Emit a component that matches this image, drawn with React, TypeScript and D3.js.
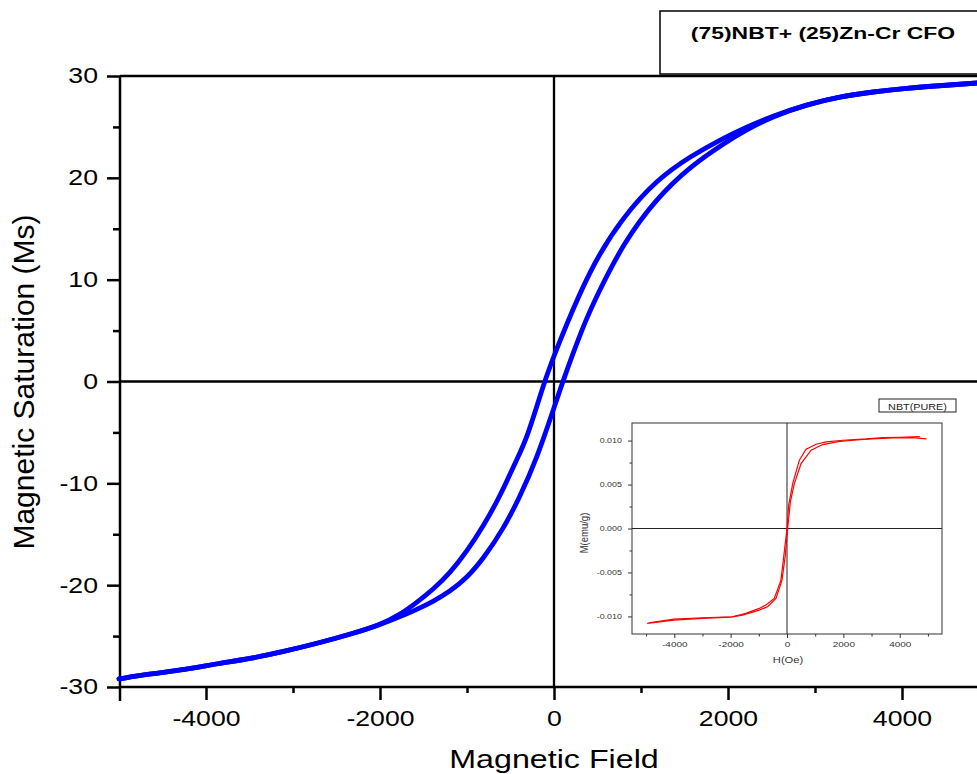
import React, { useEffect, useRef } from 'react'
import * as d3 from 'd3'

// main loop: (75)NBT+ (25)Zn-Cr CFO, field in Oe, Ms
// descending branch, +5000 -> -5000
const descField = [5000, 4437, 4054, 3670, 3287, 2905, 2521, 2215, 1946, 1563, 1180, 797, 414, 0, -110, -314, -429, -621, -813, -1003, -1195, -1387, -1578, -1770, -2000, -2330, -2713, -3095, -3479, -3862, -4245, -4629, -5000]
const descMs = [29.4, 29.05, 28.8, 28.45, 27.97, 27.2, 26.1, 25.0, 23.9, 22.1, 19.8, 16.2, 11.2, 2.6, 0, -5.7, -7.65, -11.3, -14.2, -16.7, -18.8, -20.4, -21.7, -22.9, -23.9, -24.8, -25.7, -26.5, -27.2, -27.7, -28.3, -28.7, -29.2]
// ascending branch, -5000 -> +5000
const ascField = [-5000, -4629, -4245, -3862, -3479, -3095, -2713, -2330, -2000, -1770, -1578, -1387, -1195, -1003, -813, -583, -391, -199, 0, 100, 337, 491, 797, 1180, 1563, 1946, 2215, 2521, 2905, 3287, 3670, 4054, 4437, 5000]
const ascMs = [-29.2, -28.7, -28.3, -27.7, -27.2, -26.5, -25.7, -24.8, -23.9, -23.1, -22.4, -21.6, -20.6, -19.3, -17.4, -14.5, -11.3, -7.6, -2.6, 0, 5.5, 8.4, 13.6, 18.0, 21.1, 23.35, 24.75, 26.05, 27.2, 27.97, 28.45, 28.8, 29.05, 29.4]

// inset: NBT(PURE), H(Oe) vs M(emu/g)
const pureDescH = [4712, 4000, 3407, 2813, 1982, 1389, 1033, 677, 439, 202, 59, 0, -83, -214, -451, -748, -985, -1460, -1935, -3003, -4012, -4902]
const pureDescM = [0.01045, 0.01038, 0.01034, 0.01019, 0.01004, 0.00985, 0.00958, 0.00902, 0.00777, 0.00511, 0.00265, 0, -0.00227, -0.00587, -0.00795, -0.00871, -0.00909, -0.00966, -0.01004, -0.01015, -0.0103, -0.01072]
const pureAscH = [-4962, -4012, -3003, -1994, -1579, -985, -688, -392, -178, -59, 24, 119, 261, 499, 855, 1270, 1864, 2813, 3763, 4475, 4950]
const pureAscM = [-0.0108, -0.01042, -0.01023, -0.01008, -0.00985, -0.00928, -0.0089, -0.00795, -0.00587, -0.00303, 0, 0.00303, 0.00511, 0.00739, 0.0089, 0.00955, 0.00992, 0.01015, 0.0103, 0.01034, 0.01019]

// ticks
const msMajor = [-30, -20, -10, 0, 10, 20, 30]
const msMinor = [-25, -15, -5, 5, 15, 25]
const fieldMajor = [-4000, -2000, 0, 2000, 4000]
const fieldMinor = [-3000, -1000, 1000, 3000]
const insetMMajor = [-0.01, -0.005, 0, 0.005, 0.01]
const insetMMinor = [-0.0075, -0.0025, 0.0025, 0.0075]
const insetHMajor = [-4000, -2000, 0, 2000, 4000]
const insetHMinor = [-5000, -3000, -1000, 1000, 3000, 5000]

const FONT = 'Arial, "Liberation Sans", sans-serif'
const SX = 1.24 // the picture is a bit stretched sideways

const App = () => {
  const svgRef = useRef<SVGSVGElement>(null)

  useEffect(() => {
    const svg = d3.select(svgRef.current)
    svg.selectAll('*').remove()
    svg.style('font-family', FONT)

    const x = d3.scaleLinear().domain([-5000, 5000]).range([119, 989])
    const y = d3.scaleLinear().domain([-30, 30]).range([687, 76])

    // frame lines
    svg.append('line').attr('x1', 120).attr('x2', 989).attr('y1', 76).attr('y2', 76)
      .attr('stroke', '#000').attr('stroke-width', 2.5)
    svg.append('line').attr('x1', 120).attr('x2', 120).attr('y1', 76).attr('y2', 701)
      .attr('stroke', '#000').attr('stroke-width', 2.5)
    svg.append('line').attr('x1', 120).attr('x2', 989).attr('y1', 687).attr('y2', 687)
      .attr('stroke', '#000').attr('stroke-width', 2.5)

    // left axis
    const left = svg.append('g').attr('transform', 'translate(120,0)')
    left.call(d3.axisLeft(y).tickValues(msMajor).tickSize(13).tickFormat(d => String(d)))
    left.append('g').call(d3.axisLeft(y).tickValues(msMinor).tickSize(7).tickFormat(() => ''))
    left.selectAll('.domain').remove()
    left.selectAll('line').attr('stroke-width', 2.5)
    left.selectAll('text').attr('font-size', 21.5).attr('font-family', FONT)
      .attr('x', -22 / SX).attr('transform', `scale(${SX},1)`)

    // bottom axis
    const bottom = svg.append('g').attr('transform', 'translate(0,687)')
    bottom.call(d3.axisBottom(x).tickValues(fieldMajor).tickSize(13).tickPadding(11).tickFormat(d => String(d)))
    bottom.append('g').call(d3.axisBottom(x).tickValues(fieldMinor).tickSize(6).tickFormat(() => ''))
    bottom.selectAll('.domain').remove()
    bottom.selectAll('line').attr('stroke-width', 2.5)
    bottom.selectAll('text').attr('font-size', 21.5).attr('font-family', FONT)
      .attr('transform', `scale(${SX},1)`)

    // zero lines
    svg.append('line').attr('x1', x(0)).attr('x2', x(0)).attr('y1', 76).attr('y2', 687)
      .attr('stroke', '#000').attr('stroke-width', 2.3)
    svg.append('line').attr('x1', 120).attr('x2', 989).attr('y1', y(0)).attr('y2', y(0))
      .attr('stroke', '#000').attr('stroke-width', 2.3)

    // hysteresis loop
    const loop = d3.line<number>()
      .curve(d3.curveBasis)
    const drawBranch = (hs: number[], ms: number[]) => {
      loop.x((_, i) => x(hs[i])).y((_, i) => y(ms[i]))
      svg.append('path').attr('d', loop(hs)).attr('fill', 'none')
        .attr('stroke', '#0000ff').attr('stroke-width', 4.8).attr('stroke-linecap', 'round')
    }
    drawBranch(descField, descMs)
    drawBranch(ascField, ascMs)

    // axis titles
    svg.append('text').attr('transform', `translate(554,768) scale(${SX},1)`)
      .attr('text-anchor', 'middle').attr('font-size', 26).text('Magnetic Field')
    svg.append('text').attr('transform', 'translate(34,382) rotate(-90)')
      .attr('text-anchor', 'middle').attr('font-size', 30).text('Magnetic Saturation (Ms)')

    // legend box
    svg.append('rect').attr('x', 660).attr('y', 11).attr('width', 340).attr('height', 63)
      .attr('fill', '#fff').attr('stroke', '#000').attr('stroke-width', 1.5)
    svg.append('text').attr('transform', `translate(823,39) scale(1.39,1)`)
      .attr('text-anchor', 'middle').attr('font-size', 16.5).attr('font-weight', 'bold')
      .text('(75)NBT+ (25)Zn-Cr CFO')

    // ---- inset ----
    const ix = d3.scaleLinear().domain([-5500, 5500]).range([632, 942])
    const iy = d3.scaleLinear().domain([-0.012, 0.012]).range([634, 423])
    const inset = svg.append('g')
    inset.append('rect').attr('x', 632).attr('y', 423).attr('width', 310).attr('height', 211)
      .attr('fill', '#fff').attr('stroke', '#333').attr('stroke-width', 1)
    inset.append('line').attr('x1', ix(0)).attr('x2', ix(0)).attr('y1', 423).attr('y2', 634)
      .attr('stroke', '#222').attr('stroke-width', 1)
    inset.append('line').attr('x1', 632).attr('x2', 942).attr('y1', iy(0)).attr('y2', iy(0))
      .attr('stroke', '#222').attr('stroke-width', 1)

    const il = inset.append('g').attr('transform', 'translate(632,0)')
    il.call(d3.axisLeft(iy).tickValues(insetMMajor).tickSize(4).tickFormat(d => (+d).toFixed(3)))
    il.append('g').call(d3.axisLeft(iy).tickValues(insetMMinor).tickSize(2.5).tickFormat(() => ''))
    il.selectAll('.domain').remove()
    il.selectAll('line').attr('stroke', '#333')
    il.selectAll('text').attr('font-size', 7.2).attr('font-family', FONT).attr('fill', '#333')
      .attr('x', -10 / SX).attr('transform', `scale(${SX},1)`)

    const ib = inset.append('g').attr('transform', 'translate(0,634)')
    ib.call(d3.axisBottom(ix).tickValues(insetHMajor).tickSize(4).tickPadding(4).tickFormat(d => String(d)))
    ib.append('g').call(d3.axisBottom(ix).tickValues(insetHMinor).tickSize(2.5).tickFormat(() => ''))
    ib.selectAll('.domain').remove()
    ib.selectAll('line').attr('stroke', '#333')
    ib.selectAll('text').attr('font-size', 7.4).attr('font-family', FONT).attr('fill', '#333')
      .attr('transform', `scale(1.35,1)`)

    const iline = d3.line<number>()
    const drawPure = (hs: number[], ms: number[]) => {
      iline.x((_, i) => ix(hs[i])).y((_, i) => iy(ms[i]))
      inset.append('path').attr('d', iline(hs)).attr('fill', 'none')
        .attr('stroke', '#ff0000').attr('stroke-width', 1.2)
    }
    drawPure(pureDescH, pureDescM)
    drawPure(pureAscH, pureAscM)

    inset.append('text').attr('transform', `translate(788,663) scale(${SX},1)`)
      .attr('text-anchor', 'middle').attr('font-size', 9).attr('fill', '#333').text('H(Oe)')
    inset.append('text').attr('transform', `translate(588,533) scale(${SX},1) rotate(-90)`)
      .attr('text-anchor', 'middle').attr('font-size', 9.5).attr('fill', '#333').text('M(emu/g)')

    inset.append('rect').attr('x', 879).attr('y', 399).attr('width', 77).attr('height', 13)
      .attr('fill', '#fff').attr('stroke', '#222').attr('stroke-width', 1)
    inset.append('text').attr('transform', `translate(917.5,409.5) scale(1.2,1)`)
      .attr('text-anchor', 'middle').attr('font-size', 9).attr('fill', '#222').text('NBT(PURE)')
  }, [])

  return (
    <svg ref={svgRef} width={977} height={774}
      style={{ position: 'absolute', left: 0, top: 0, background: '#fff' }} />
  )
}

export default App
